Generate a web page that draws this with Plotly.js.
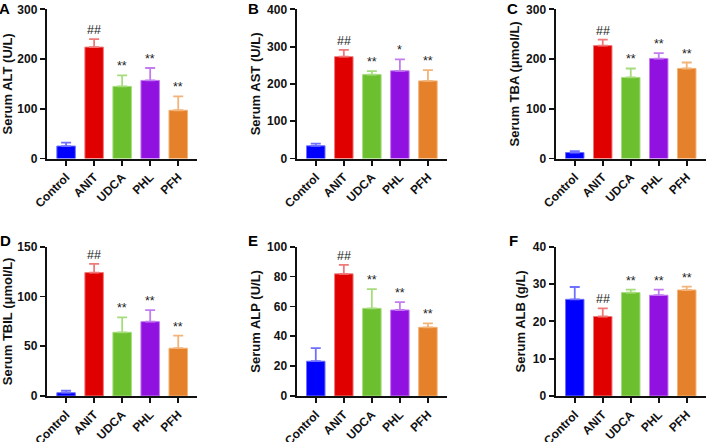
<!DOCTYPE html>
<html>
<head>
<meta charset="utf-8">
<script src="https://cdn.plot.ly/plotly-2.35.2.min.js"></script>
<style>
html,body{margin:0;padding:0;background:#fff;}
#chart{width:708px;height:442px;}
</style>
</head>
<body>
<div id="chart"></div>
<script>
// ---- data ----
const groups = ["Control", "ANIT", "UDCA", "PHL", "PFH"];

const altMean = [25, 224, 145, 157, 97];
const altSd   = [7, 16, 22, 25, 28];
const altSig  = ["", "##", "**", "**", "**"];

const astMean = [34, 273, 225, 235, 208];
const astSd   = [6, 18, 9, 31, 29];
const astSig  = ["", "##", "**", "*", "**"];

const tbaMean = [12, 227, 163, 201, 181];
const tbaSd   = [3, 12, 18, 11, 12];
const tbaSig  = ["", "##", "**", "**", "**"];

const tbilMean = [3.3, 124, 64, 74.7, 48];
const tbilSd   = [2, 8.7, 15, 11.6, 12.7];
const tbilSig  = ["", "##", "**", "**", "**"];

const alpMean = [23.3, 81.8, 58.7, 57.6, 46];
const alpSd   = [8.7, 6, 12.9, 5.3, 2.7];
const alpSig  = ["", "##", "**", "**", "**"];

const albMean = [25.9, 21.3, 27.7, 27.0, 28.4];
const albSd   = [3.3, 2.2, 0.8, 1.5, 0.9];
const albSig  = ["", "##", "**", "**", "**"];

const panelLetters = ["A", "B", "C", "D", "E", "F"];
const yTitles = ["Serum ALT (U/L)", "Serum AST (U/L)", "Serum TBA (μmol/L)",
                 "Serum TBIL (μmol/L)", "Serum ALP (U/L)", "Serum ALB (g/L)"];
const yMax  = [300, 400, 300, 150, 100, 40];
const yStep = [100, 100, 100, 50, 20, 10];

const barColors = ["#0000ff", "#e00000", "#6cbf2e", "#9112e0", "#e5812a"];
const errColors = ["#7070ff", "#f07a7a", "#a6dc7e", "#c27cf0", "#f2b478"];

// ---- layout helpers ----
const W = 708, H = 442;
const colPx = [[47.3, 197], [297, 446.7], [556, 705.5]];
const rowPx = [[9.3, 158.5], [246.7, 396]];
const letterPx = [[4.5, 8], [253.5, 8], [512.5, 8], [5, 241], [253, 241], [513, 241]];

const means = [altMean, astMean, tbaMean, tbilMean, alpMean, albMean];
const sds   = [altSd, astSd, tbaSd, tbilSd, alpSd, albSd];
const sigs  = [altSig, astSig, tbaSig, tbilSig, alpSig, albSig];

const FONT = "Liberation Sans, Arial, sans-serif";
const traces = [];
const layout = {
  width: W, height: H,
  margin: {l: 0, r: 0, t: 0, b: 0},
  paper_bgcolor: "#fff", plot_bgcolor: "#fff",
  showlegend: false,
  bargap: 0.34,
  annotations: []
};

for (let p = 0; p < 6; p++) {
  const suffix = p === 0 ? "" : String(p + 1);
  const r = Math.floor(p / 3), c = p % 3;
  const xa = "x" + suffix, ya = "y" + suffix;

  for (let g = 0; g < groups.length; g++) {
    traces.push({
      type: "bar",
      x: [groups[g]],
      y: [means[p][g]],
      xaxis: xa, yaxis: ya,
      marker: {color: barColors[g], line: {color: errColors[g], width: 1}},
      error_y: {type: "data", symmetric: false, array: [sds[p][g]], arrayminus: [0],
                color: errColors[g], thickness: 1.8, width: 5},
      hoverinfo: "skip"
    });
    if (sigs[p][g]) {
      layout.annotations.push({
        xref: xa, yref: ya,
        x: groups[g], y: means[p][g] + sds[p][g],
        yanchor: "bottom", xanchor: "center", yshift: 0,
        text: sigs[p][g], showarrow: false,
        font: {family: FONT, size: 12.5, color: "#222"}
      });
    }
  }

  layout["xaxis" + suffix] = {
    domain: [colPx[c][0] / W, colPx[c][1] / W],
    anchor: ya,
    type: "category",
    categoryorder: "array", categoryarray: groups,
    range: [-0.67, 4.67],
    showline: true, linecolor: "#111", linewidth: 2,
    ticks: "outside", ticklen: 5, tickwidth: 1.8, tickcolor: "#111",
    tickangle: -45,
    tickfont: {family: FONT, size: 12, color: "#111", weight: "bold"},
    showgrid: false, zeroline: false, fixedrange: true
  };
  layout["yaxis" + suffix] = {
    domain: [1 - rowPx[r][1] / H, 1 - rowPx[r][0] / H],
    anchor: xa,
    range: [0, yMax[p]], dtick: yStep[p], tick0: 0,
    showline: true, linecolor: "#111", linewidth: 2,
    ticks: "outside", ticklen: 5.5, tickwidth: 1.8, tickcolor: "#111",
    tickfont: {family: FONT, size: 12, color: "#111", weight: "bold"},
    title: {text: yTitles[p], standoff: 4,
            font: {family: FONT, size: 13, color: "#111", weight: "bold"}},
    showgrid: false, zeroline: false, fixedrange: true
  };

  layout.annotations.push({
    xref: "paper", yref: "paper",
    x: letterPx[p][0] / W, y: 1 - letterPx[p][1] / H,
    xanchor: "center", yanchor: "middle",
    text: "<b>" + panelLetters[p] + "</b>", showarrow: false,
    font: {family: FONT, size: 15, color: "#000"}
  });
}

Plotly.newPlot("chart", traces, layout, {displayModeBar: false, staticPlot: true});
</script>
</body>
</html>
